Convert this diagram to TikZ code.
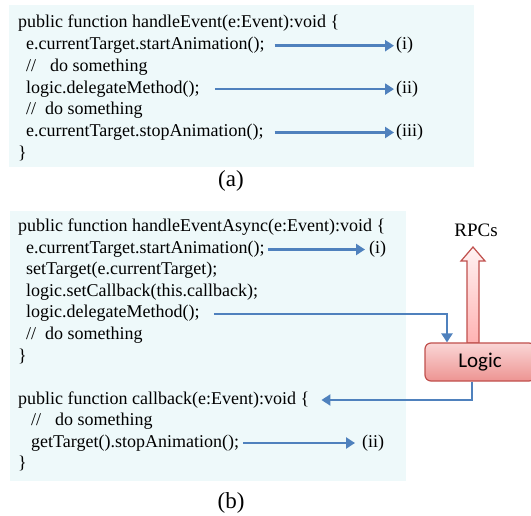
\documentclass[tikz,border=0pt]{standalone}
\usepackage{fontspec}
\setmainfont{Liberation Serif}
\newfontfamily\logicfont{Carlito}
\usetikzlibrary{arrows.meta}

\definecolor{panelbg}{RGB}{238,249,250}
\definecolor{flowblue}{RGB}{79,129,189}
\definecolor{logicred}{RGB}{192,80,77}
\definecolor{logictop}{RGB}{250,214,214}
\definecolor{logicbot}{RGB}{237,148,146}

\tikzset{
  code/.style={anchor=west, inner sep=0pt, font=\fontsize{18}{21}\selectfont,
    text height=12pt, text depth=4pt},
  caption/.style={inner sep=0pt, font=\fontsize{23}{26}\selectfont},
  panel/.style={fill=panelbg, draw=none},
  flow/.style={draw=flowblue, line width=2.8pt, -{Triangle[length=9pt,width=11pt]}},
  logicbox/.style={draw=logicred, line width=1.2pt, rounded corners=6pt,
    top color=logictop, bottom color=logicbot, minimum width=110pt,
    minimum height=38pt, font=\logicfont\fontsize{21}{24}\selectfont},
  rpcarrow/.style={draw=logicred, line width=1.2pt, top color=red!5, bottom color=red!30},
}

\begin{document}
\begin{tikzpicture}[x=1pt,y=-1pt]
  \useasboundingbox (0,0) rectangle (531,516);
  % panels
  \fill[panel] (9,5) rectangle (474,167);
  \fill[panel] (10,211) rectangle (406,481);

  % (a)
  \node[code] (a1) at (18,24) {public function handleEvent(e:Event):void \{};
  \node[code] (a2) at (26,45.7) {e.currentTarget.startAnimation();};
  \node[code] (a3) at (26,67.4) {//\hspace{14pt}do something};
  \node[code] (a4) at (26,89.1) {logic.delegateMethod();};
  \node[code] (a5) at (26,110.8) {//\hspace{9pt}do something};
  \node[code] (a6) at (26,132.5) {e.currentTarget.stopAnimation();};
  \node[code] (a7) at (18,154.2) {\}};
  \node[code] (ai) at (396,45.7) {(i)};
  \node[code] (aii) at (396,89.1) {(ii)};
  \node[code] (aiii) at (396,132.5) {(iii)};
  \draw[flow] ([xshift=10pt]a2.east) -- ([xshift=-2pt]ai.west);
  \draw[flow] ([xshift=15pt]a4.east) -- ([xshift=-2pt]aii.west);
  \draw[flow] ([xshift=11pt]a6.east) -- ([xshift=-2pt]aiii.west);
  \node[caption] (capa) at (231,181) {(a)};

  % (b)
  \node[code] (b1) at (18,228) {public function handleEventAsync(e:Event):void \{};
  \node[code] (b2) at (26,249.5) {e.currentTarget.startAnimation();};
  \node[code] (b3) at (26,271) {setTarget(e.currentTarget);};
  \node[code] (b4) at (26,292.5) {logic.setCallback(this.callback);};
  \node[code] (b5) at (26,314) {logic.delegateMethod();};
  \node[code] (b6) at (26,335.5) {//\hspace{9pt}do something};
  \node[code] (b7) at (18,357) {\}};
  \node[code] (b9) at (18,400) {public function callback(e:Event):void \{};
  \node[code] (b10) at (31,421.5) {//\hspace{14pt}do something};
  \node[code] (b11) at (31,443) {getTarget().stopAnimation();};
  \node[code] (b12) at (18,464.5) {\}};
  \node[code] (bi) at (369,249.5) {(i)};
  \node[code] (bii) at (362,443) {(ii)};
  \node[caption] (capb) at (231,503) {(b)};

  % logic and RPCs
  \coordinate (rpcbase) at (473,343);
  \draw[rpcarrow] ([xshift=-6pt]rpcbase) -- ++(0,-82) -- ++(-6,0) -- ++(12,-14)
    -- ++(12,14) -- ++(-6,0) -- ++(0,82) -- cycle;
  \node[logicbox] (logic) at (480,362) {Logic};
  \node[inner sep=0pt, font=\fontsize{19}{22}\selectfont] (rpcs) at (476,230) {RPCs};

  \draw[flow] ([xshift=3pt]b2.east) -- ([xshift=-4pt]bi.west);
  \draw[flow] ([xshift=14pt]b5.east) -| ([xshift=-33pt]logic.north);
  \draw[flow] ([xshift=-8pt]logic.south) |- ([xshift=12pt]b9.east);
  \draw[flow] ([xshift=4pt]b11.east) -- ([xshift=-7pt]bii.west);
\end{tikzpicture}
\end{document}
